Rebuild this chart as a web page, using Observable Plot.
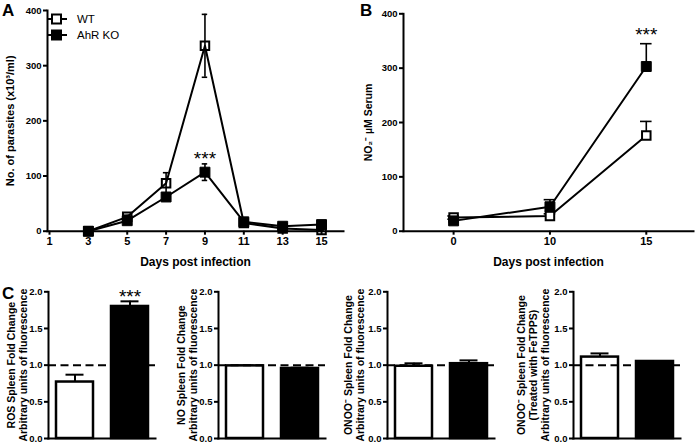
<!DOCTYPE html>
<html><head><meta charset="utf-8">
<script src="https://cdn.jsdelivr.net/npm/d3@7"></script>
<script src="https://cdn.jsdelivr.net/npm/@observablehq/plot@0.6"></script>
<style>
body{margin:0;background:#fff;}
#fig{position:relative;width:696px;height:442px;overflow:hidden;font-family:"Liberation Sans",Arial,sans-serif;background:#fff;}
#fig > svg{position:absolute;}
.letter{position:absolute;font-weight:bold;font-size:17px;line-height:1;}
.legend{position:absolute;left:46px;top:11px;font-size:11.5px;line-height:16px;}
.legend div{display:flex;align-items:center;height:16px;}
.legend svg{margin-right:9px;}
</style></head><body><div id="fig"></div>
<script>
const FONT = "Liberation Sans, Arial, sans-serif";
// Panel A: parasitemia
const daysA = [3, 5, 7, 9, 11, 13, 15];
const ticksA = [1, 3, 5, 7, 9, 11, 13, 15];
const wtA = [0, 26, 87, 336, 15, 5, 2];
const wtAErr = [0, 3, 19, 57, 2, 1, 1];
const koA = [0, 19, 62, 107, 17, 9, 12];
const koAErr = [0, 3, 3, 15, 3, 1, 2];
const ticksAY = [0, 100, 200, 300, 400];
// Panel B: NO2- serum
const daysB = ["0", "10", "15"];
const wtB = [25, 28, 176];
const wtBErr = [3, 4, 26];
const koB = [19, 45, 303];
const koBErr = [3, 13, 42];
// Panel C: fold change
const groups = ["WT", "AhR KO"];
const rosC = [0.77, 1.80];
const rosCErr = [0.10, 0.07];
const noC = [0.99, 0.955];
const noCErr = [0.005, 0.01];
const onooC = [0.985, 1.02];
const onooCErr = [0.04, 0.045];
const onooFeC = [1.11, 1.05];
const onooFeCErr = [0.05, 0.005];
const ticksC = [0, 0.5, 1.0, 1.5, 2.0];
const sig = "***";

const fig = document.getElementById("fig");
function place(svg, left, top) { svg.style.left = left + "px"; svg.style.top = top + "px"; fig.appendChild(svg); }

const rowsA = (vals, errs) => daysA.map((d, i) => ({day: d, v: vals[i], e: errs[i]}));
const dWT = rowsA(wtA, wtAErr), dKO = rowsA(koA, koAErr);

function errMarks(data, xk, half, both) {
  const m = [
    Plot.ruleX(data, {x: xk, y1: d => both ? d.v - d.e : d.v, y2: d => d.v + d.e, stroke: "black", strokeWidth: 1.6}),
    Plot.ruleY(data.filter(d => d.e > 0), {y: d => d.v + d.e, x1: d => d[xk] - half, x2: d => d[xk] + half, stroke: "black", strokeWidth: 1.6})
  ];
  if (both) m.push(Plot.ruleY(data.filter(d => d.e > 0), {y: d => d.v - d.e, x1: d => d[xk] - half, x2: d => d[xk] + half, stroke: "black", strokeWidth: 1.6}));
  return m;
}

const A = Plot.plot({
  width: 345, height: 275,
  marginLeft: 47, marginTop: 10, marginBottom: 44.3, marginRight: 2,
  x: {domain: [0.897, 16.13]},
  y: {domain: [0, 400]},
  style: {fontFamily: FONT, overflow: "visible", background: "transparent"},
  marks: [
    Plot.axisY({ticks: ticksAY, tickSize: 4, tickPadding: 2, strokeWidth: 2, fontSize: 9.5, fontWeight: "bold", label: null}),
    Plot.axisX({ticks: ticksA, tickSize: 4, tickPadding: 2, strokeWidth: 2, fontSize: 11, fontWeight: "bold", label: null}),
    Plot.frame({anchor: "left", strokeWidth: 2}),
    Plot.frame({anchor: "bottom", strokeWidth: 2}),
    Plot.text(["No. of parasites (x10³/ml)"], {frameAnchor: "left", rotate: -90, dx: -37, textAnchor: "middle", lineAnchor: "middle", fontSize: 11, fontWeight: "bold"}),
    Plot.text(["Days post infection"], {frameAnchor: "bottom", dy: 31, textAnchor: "middle", lineAnchor: "middle", fontSize: 12, fontWeight: "bold"}),
    Plot.line(dWT, {x: "day", y: "v", stroke: "black", strokeWidth: 2}),
    Plot.line(dKO, {x: "day", y: "v", stroke: "black", strokeWidth: 2}),
    ...errMarks(dWT, "day", 0.14, true),
    ...errMarks(dKO, "day", 0.14, true),
    Plot.dot(dWT, {x: "day", y: "v", symbol: "square", r: 4.8, fill: "none", stroke: "black", strokeWidth: 2}),
    Plot.dot(dKO, {x: "day", y: "v", symbol: "square", r: 5.6, fill: "black", stroke: "black", strokeWidth: 1}),
    Plot.text(dKO.filter(d => d.day === 9), {x: "day", y: d => d.v + d.e, text: () => sig, lineAnchor: "bottom", dy: 1.5, fontSize: 19})
  ]
});
place(A, 0, 0);

const rowsB = (vals, errs) => daysB.map((d, i) => ({i, v: vals[i], e: errs[i]}));
const bWT = rowsB(wtB, wtBErr), bKO = rowsB(koB, koBErr);
const B = Plot.plot({
  width: 351, height: 275,
  marginLeft: 58, marginTop: 13.3, marginBottom: 44.3, marginRight: 3,
  x: {domain: [-0.52, 2.49]},
  y: {domain: [0, 400]},
  style: {fontFamily: FONT, overflow: "visible", background: "transparent"},
  marks: [
    Plot.axisY({ticks: ticksAY, tickSize: 4, tickPadding: 2, strokeWidth: 2, fontSize: 9.5, fontWeight: "bold", label: null}),
    Plot.axisX({ticks: [0, 1, 2], tickFormat: i => daysB[i], tickSize: 4, tickPadding: 2, strokeWidth: 2, fontSize: 11, fontWeight: "bold", label: null}),
    Plot.frame({anchor: "left", strokeWidth: 2}),
    Plot.frame({anchor: "bottom", strokeWidth: 2}),
    Plot.text(["NO₂⁻ µM Serum"], {frameAnchor: "left", rotate: -90, dx: -35, textAnchor: "middle", lineAnchor: "middle", fontSize: 10.5, fontWeight: "bold"}),
    Plot.text(["Days post infection"], {frameAnchor: "bottom", dy: 31, textAnchor: "middle", lineAnchor: "middle", fontSize: 12, fontWeight: "bold"}),
    Plot.line(bWT, {x: "i", y: "v", stroke: "black", strokeWidth: 2}),
    Plot.line(bKO, {x: "i", y: "v", stroke: "black", strokeWidth: 2}),
    ...errMarks(bWT, "i", 0.06, false),
    ...errMarks(bKO, "i", 0.06, false),
    Plot.dot(bWT, {x: "i", y: "v", symbol: "square", r: 4.8, fill: "white", stroke: "black", strokeWidth: 2}),
    Plot.dot(bKO, {x: "i", y: "v", symbol: "square", r: 5.6, fill: "black", stroke: "black", strokeWidth: 1}),
    Plot.text(bKO.filter(d => d.i === 2), {x: "i", y: d => d.v + d.e, text: () => sig, lineAnchor: "bottom", dy: -3, fontSize: 19})
  ]
});
place(B, 345, 0);

function barPanel(axisX, label, dx, vals, errs, star) {
  const rows = groups.map((g, i) => ({g, v: vals[i], e: errs[i]}));
  const ml = 60;
  const p = Plot.plot({
    width: ml + 107 + 6, height: 192,
    marginLeft: ml, marginTop: 42.3, marginBottom: 3, marginRight: 6,
    x: {domain: groups, paddingInner: 0.33, paddingOuter: 0.13, axis: null},
    y: {domain: [0, 2]},
    color: {domain: groups, range: ["white", "black"]},
    style: {fontFamily: FONT, overflow: "visible", background: "transparent"},
    marks: [
      Plot.axisY({ticks: ticksC, tickFormat: d3.format(".1f"), tickSize: 4, tickPadding: 2, strokeWidth: 2, fontSize: 9.5, fontWeight: "bold", label: null}),
      Plot.text([label], {frameAnchor: "left", rotate: -90, dx: dx, textAnchor: "middle", lineAnchor: "middle", fontSize: 10.5, lineHeight: 1.15, fontWeight: "bold"}),
      Plot.ruleX(rows, {x: "g", y1: "v", y2: d => d.v + d.e, stroke: "black", strokeWidth: 2}),
      Plot.tickY(rows, {x: "g", y: d => d.v + d.e, insetLeft: 9.5, insetRight: 9.5, stroke: "black", strokeWidth: 2}),
      Plot.barY(rows, {x: "g", y: "v", fill: "g", stroke: "black", strokeWidth: 2.5}),
      Plot.ruleY([1], {stroke: "black", strokeWidth: 2, strokeDasharray: "8,4.5"}),
      Plot.frame({anchor: "left", strokeWidth: 2}),
      Plot.frame({anchor: "bottom", strokeWidth: 2}),
      ...(star ? [Plot.text(rows.filter(d => d.g === "AhR KO"), {x: "g", y: d => d.v + d.e, text: () => sig, lineAnchor: "bottom", dy: 2, fontSize: 19})] : [])
    ]
  });
  place(p, axisX - ml, 249);
}
barPanel(47.7, "ROS Spleen Fold Change\nArbitrary units of fluorescence", -31.7, rosC, rosCErr, true);
barPanel(217.7, "NO Spleen Fold Change\nArbitrary units of fluorescence", -31.7, noC, noCErr, false);
barPanel(387.3, "ONOO⁻ Spleen Fold Change\nArbitrary units of fluorescence", -33, onooC, onooCErr, false);
barPanel(572.7, "ONOO⁻ Spleen Fold Change\n(Treated with FeTPPS)\nArbitrary units of fluorescence", -40, onooFeC, onooFeCErr, false);

// panel letters
[["A", 2, 2], ["B", 360, 2], ["C", 2, 285]].forEach(([t, x, y]) => {
  const d = document.createElement("div"); d.className = "letter"; d.textContent = t;
  d.style.left = x + "px"; d.style.top = y + "px"; fig.appendChild(d);
});
// legend for panel A
const lg = document.createElement("div"); lg.className = "legend";
lg.innerHTML = [["WT", "none"], ["AhR KO", "black"]].map(([name, f]) =>
  `<div><svg width="22" height="14"><line x1="1" x2="21" y1="7" y2="7" stroke="black" stroke-width="2"/>` +
  `<rect x="6" y="2.5" width="9" height="9" fill="${f === "none" ? "white" : "black"}" stroke="black" stroke-width="2"/></svg><span>${name}</span></div>`).join("");
fig.appendChild(lg);
</script></body></html>
